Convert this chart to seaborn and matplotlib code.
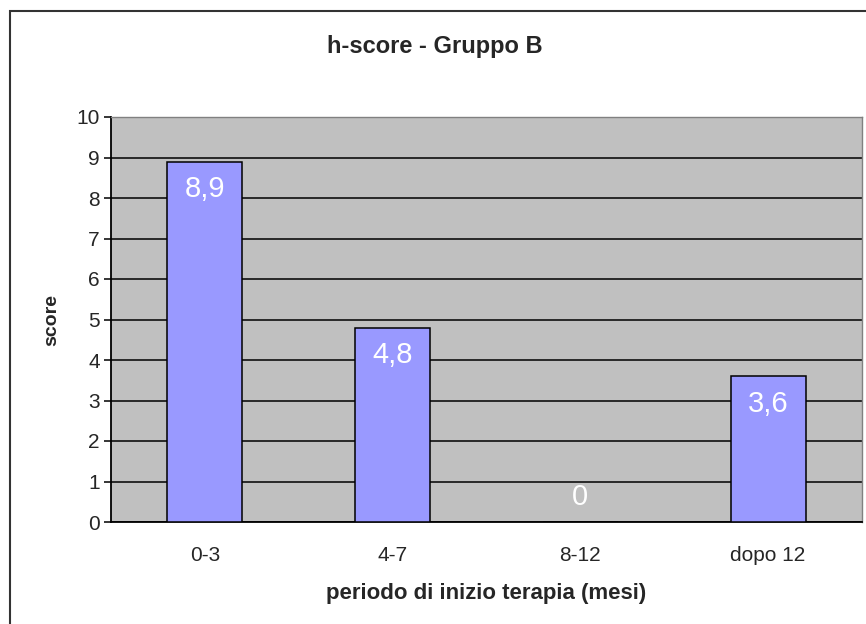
import matplotlib
matplotlib.use("Agg")
import matplotlib.pyplot as plt
import seaborn as sns
import pandas as pd
from matplotlib.patches import Rectangle

categories = ["0-3", "4-7", "8-12", "dopo 12"]
scores = [8.9, 4.8, 0.0, 3.6]
labels = ["8,9", "4,8", "0", "3,6"]

df = pd.DataFrame({"periodo": categories, "score": scores})

sns.set_style("white")
plt.rcParams["font.family"] = ["Liberation Sans", "DejaVu Sans"]

fig = plt.figure(figsize=(8.66, 6.24), dpi=100)
ax = fig.add_axes([111 / 866, 1 - 522 / 624, 751 / 866, 405 / 624])
ax.set_facecolor("#C0C0C0")

sns.barplot(data=df, x="periodo", y="score", color="#9999FF", width=0.4,
            edgecolor="black", linewidth=1.1, saturation=1, ax=ax, zorder=3)

ax.set_xlim(-0.5, 3.5)
ax.set_ylim(0, 10)
ax.set_yticks(range(0, 11))
ax.yaxis.grid(True, color="black", linewidth=1.1, zorder=0)
ax.set_axisbelow(True)

ax.set_xticks([-0.5, 0.5, 1.5, 2.5, 3.5], minor=True)
ax.tick_params(axis="x", which="major", length=0, labelsize=15, pad=17)
ax.tick_params(axis="x", which="minor", length=6, width=1.1, color="black", direction="out")
ax.tick_params(axis="y", which="major", length=5, width=1.1, color="black", direction="out",
               labelsize=15, pad=3, left=True)

for s in ["left", "bottom"]:
    ax.spines[s].set_color("black")
    ax.spines[s].set_linewidth(1.3)
for s in ["top", "right"]:
    ax.spines[s].set_color("#808080")
    ax.spines[s].set_linewidth(1.0)

for i, (v, lab) in enumerate(zip(scores, labels)):
    off = -20 if v > 0 else 18
    ax.annotate(lab, (i, v), xytext=(0, off), textcoords="offset points",
                ha="center", va="center", color="white", fontsize=21, zorder=5)

ax.set_xlabel("periodo di inizio terapia (mesi)", fontsize=16, fontweight="bold", labelpad=13)
ax.set_ylabel("score", fontsize=14, fontweight="bold", labelpad=12)
fig.text(435 / 866, 1 - 46 / 624, "h-score - Gruppo B", ha="center", va="center",
         fontsize=17, fontweight="bold")

fig.patches.append(Rectangle((10 / 866, -0.1), 1.2, 1 - 11 / 624 + 0.1, transform=fig.transFigure,
                             fill=False, edgecolor="#333333", linewidth=1.5, clip_on=False))

fig.savefig("out.png", dpi=100)
